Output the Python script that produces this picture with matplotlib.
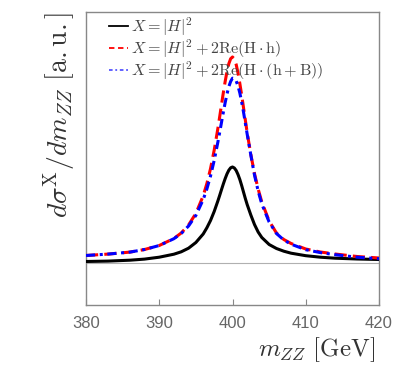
import matplotlib
matplotlib.use("Agg")
import matplotlib.pyplot as plt
from matplotlib.lines import Line2D

plt.rcParams["mathtext.fontset"] = "cm"

# invariant mass points (GeV) and curve heights (a.u.)
m_zz = [380, 383, 386, 388, 390, 392, 393, 394, 395, 396, 396.5, 397, 397.5, 398,
        398.25, 398.5, 398.75, 399, 399.25, 399.5, 399.75, 400,
        400.25, 400.5, 400.75, 401, 401.25, 401.5, 401.75, 402,
        402.5, 403, 403.5, 404, 405, 406, 407, 408, 410, 412, 414, 417, 420]

h_sq = [1.5, 1.9, 2.8, 3.9, 5.8, 8.8, 11.2, 14.8, 20.5, 29, 35.2, 42.5, 51.5, 62,
        67.6, 73.4, 79.1, 84.4, 89.1, 92.8, 95.2, 96,
        95, 92.5, 88.5, 83.5, 77.5, 71, 64.5, 58.5,
        48, 38.5, 31, 25.5, 18.5, 14.5, 11.8, 9.8, 7.3, 5.8, 4.8, 4.0, 3.5]

h_sq_hh = [7.5, 8.9, 10.9, 13.5, 17.5, 24.5, 30, 38, 49.6, 67.2, 79.4, 94.4, 112.8, 134.4,
           146.2, 158.4, 170.4, 181.6, 191.5, 199.3, 204.3, 206,
           204, 198.5, 190, 179.5, 168, 155.5, 143, 130.5,
           108.5, 89.5, 74, 61, 42, 30, 23.5, 19.5, 14, 11, 9, 6.5, 5]

h_sq_hhb = [7.5, 8.9, 10.9, 13.5, 17.5, 24.3, 29.5, 37, 47.6, 63.4, 74, 87, 102.6, 120.8,
            130.6, 140.7, 150.8, 160.4, 169, 176.4, 181.6, 184.8,
            184.5, 182, 177, 170, 161, 151, 140, 129,
            108, 88, 72, 59, 41, 29.5, 23, 18.8, 13.3, 10.4, 8.3, 5.8, 4.3]

labels = [r"$X = |H|^2$",
          r"$X = |H|^2 + 2\mathrm{Re}(\mathrm{H}\cdot\mathrm{h})$",
          r"$X = |H|^2 + 2\mathrm{Re}(\mathrm{H}\cdot(\mathrm{h}+\mathrm{B}))$"]

fig = plt.figure(figsize=(3.97, 3.71), dpi=100)
ax = fig.add_axes([0.2166, 0.1779, 0.7381, 0.7898])

ax.axhline(0, color="#b0b0b0", lw=0.8, zorder=1)
ax.plot(m_zz, h_sq, color="black", lw=2.2, zorder=3)
ax.plot(m_zz, h_sq_hh, color="red", lw=2.2, ls=(0, (4, 2)), zorder=4)
ax.plot(m_zz, h_sq_hhb, color="blue", lw=2.2, ls=(0, (3, 1.5, 1, 1.5)), zorder=5)

ax.set_xlim(380, 420)
ax.set_ylim(-42, 251)
ax.set_xticks([380, 390, 400, 410, 420])
ax.set_yticks([])
ax.tick_params(axis="x", direction="in", length=4, color="#888888",
               labelcolor="#666666", labelsize=12, pad=8)
for lab in ax.get_xticklabels():
    lab.set_family("Liberation Sans")
for s in ax.spines.values():
    s.set_color("#888888")
    s.set_linewidth(1.0)

ax.set_xlabel(r"$m_{ZZ}\ [\mathrm{GeV}]$", fontsize=18, color="#333333")
ax.xaxis.set_label_coords(0.986, -0.154)
ax.xaxis.label.set_ha("right")
ax.xaxis.label.set_va("center")
ax.set_ylabel(r"$d\sigma^{\mathrm{X}}/dm_{ZZ}\ [\mathrm{a.u.}]$", fontsize=20, color="#333333")
ax.yaxis.set_label_coords(-0.092, 1.0)
ax.yaxis.label.set_ha("right")
ax.yaxis.label.set_va("center")

handles = [Line2D([], [], color="black", lw=1.3),
           Line2D([], [], color="red", lw=1.3, ls=(0, (3, 2))),
           Line2D([], [], color="#5555ff", lw=1.3, ls=(0, (2, 1.5, 1, 1.5)))]
leg = ax.legend(handles, labels, loc="upper left", frameon=False, fontsize=11.6,
                handlelength=1.18, handletextpad=0.19, labelspacing=-0.05,
                borderpad=0, borderaxespad=0, bbox_to_anchor=(0.0785, 0.987))
for t in leg.get_texts():
    t.set_color("#444444")

fig.savefig("out.png", dpi=100)
